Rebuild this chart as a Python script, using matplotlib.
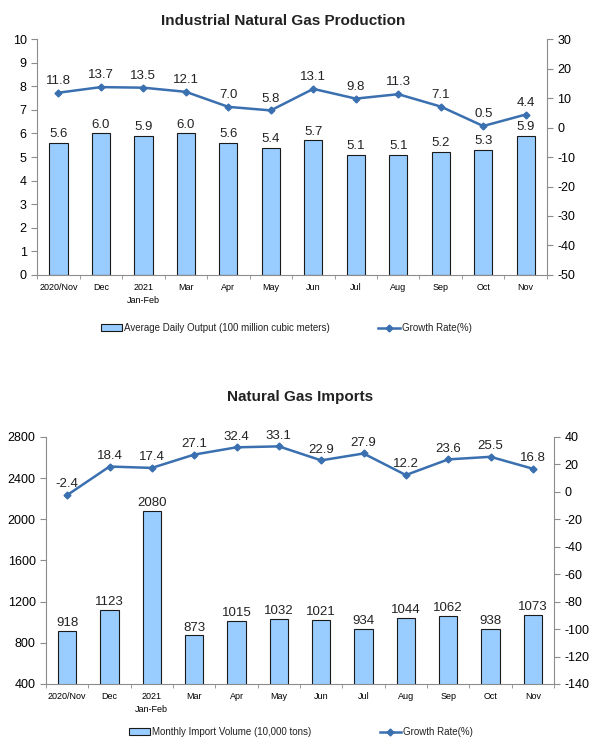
import numpy as np
import matplotlib
matplotlib.use("Agg")
import matplotlib.pyplot as plt

months = ["2020/Nov", "Dec", "2021\nJan-Feb", "Mar", "Apr", "May", "Jun",
          "Jul", "Aug", "Sep", "Oct", "Nov"]
output = [5.6, 6.0, 5.9, 6.0, 5.6, 5.4, 5.7, 5.1, 5.1, 5.2, 5.3, 5.9]
output_growth = [11.8, 13.7, 13.5, 12.1, 7.0, 5.8, 13.1, 9.8, 11.3, 7.1, 0.5, 4.4]
imports = [918, 1123, 2080, 873, 1015, 1032, 1021, 934, 1044, 1062, 938, 1073]
imports_growth = [-2.4, 18.4, 17.4, 27.1, 32.4, 33.1, 22.9, 27.9, 12.2, 23.6, 25.5, 16.8]

BAR = "#99ccff"
LINE = "#3a6fb0"
AXIS = "#8c8c8c"

plt.rcParams.update({"font.family": ["Liberation Sans", "DejaVu Sans"],
                     "text.color": "#222222", "axes.unicode_minus": False})
fig = plt.figure(figsize=(5.9, 7.42), dpi=100, facecolor="white")


def panel(rect, bars, growth, ylim, yticks, y2lim, y2ticks, bar_fmt, bar_label, bar_off, line_off):
    ax = fig.add_axes(rect)
    x = np.arange(len(months))
    ax.bar(x, bars, width=0.43, color=BAR, edgecolor="#1a1a1a", linewidth=0.8,
           label=bar_label, zorder=2)
    for xi, v in zip(x, bars):
        ax.text(xi, v + bar_off, bar_fmt.format(v), ha="center", va="bottom", fontsize=9.5)
    ax.set_xlim(-0.5, len(months) - 0.5)
    ax.set_ylim(*ylim)
    ax.set_yticks(yticks)
    ax.set_xticks(x)
    ax.set_xticklabels(months, fontsize=6.5, linespacing=1.5)
    ax.set_xticks(np.arange(-0.5, len(months), 1), minor=True)
    ax.tick_params(axis="x", which="major", length=0, pad=6)
    ax.tick_params(axis="x", which="minor", length=3, color=AXIS)
    ax.tick_params(axis="y", length=4, color=AXIS, labelsize=9)
    ax.spines["top"].set_visible(False)
    ax.spines["right"].set_visible(False)
    for s in ("left", "bottom"):
        ax.spines[s].set_color(AXIS)

    ax2 = ax.twinx()
    ax2.plot(x, growth, color=LINE, lw=1.8, marker="D", ms=3.5, label="Growth Rate(%)", zorder=3)
    for xi, v in zip(x, growth):
        ax2.text(xi, v + line_off, f"{v:.1f}", ha="center", va="bottom", fontsize=9.5)
    ax2.set_ylim(*y2lim)
    ax2.set_yticks(y2ticks)
    ax2.tick_params(axis="y", length=4, color=AXIS, labelsize=9)
    for s in ("top", "left", "bottom"):
        ax2.spines[s].set_visible(False)
    ax2.spines["right"].set_color(AXIS)
    return ax, ax2


ax, ax2 = panel([0.063, 0.6294, 0.864, 0.318], output, output_growth,
                (0, 10), range(0, 11), (-50, 30), range(-50, 31, 10),
                "{:.1f}", "Average Daily Output (100 million cubic meters)", 0.12, 2.0)
fig.text(0.48, 0.972, "Industrial Natural Gas Production", ha="center", va="center",
         fontsize=11, fontweight="bold")
h1, l1 = ax.get_legend_handles_labels()
h2, l2 = ax2.get_legend_handles_labels()
fig.legend(h1 + h2, l1 + l2, loc="center", bbox_to_anchor=(0.485, 0.558), ncol=2,
           frameon=False, fontsize=7, columnspacing=5, handlelength=2.2, handletextpad=0.2)

bx, bx2 = panel([0.078, 0.0782, 0.861, 0.333], imports, imports_growth,
                (400, 2800), range(400, 2801, 400), (-140, 40), range(-140, 41, 20),
                "{:d}", "Monthly Import Volume (10,000 tons)", 15, 3.5)
fig.text(0.508, 0.465, "Natural Gas Imports", ha="center", va="center",
         fontsize=11, fontweight="bold")
h1, l1 = bx.get_legend_handles_labels()
h2, l2 = bx2.get_legend_handles_labels()
fig.legend(h1 + h2, l1 + l2, loc="center", bbox_to_anchor=(0.51, 0.0135), ncol=2,
           frameon=False, fontsize=7, columnspacing=7, handlelength=2.2, handletextpad=0.2)

fig.savefig("out.png", dpi=100, facecolor="white")
